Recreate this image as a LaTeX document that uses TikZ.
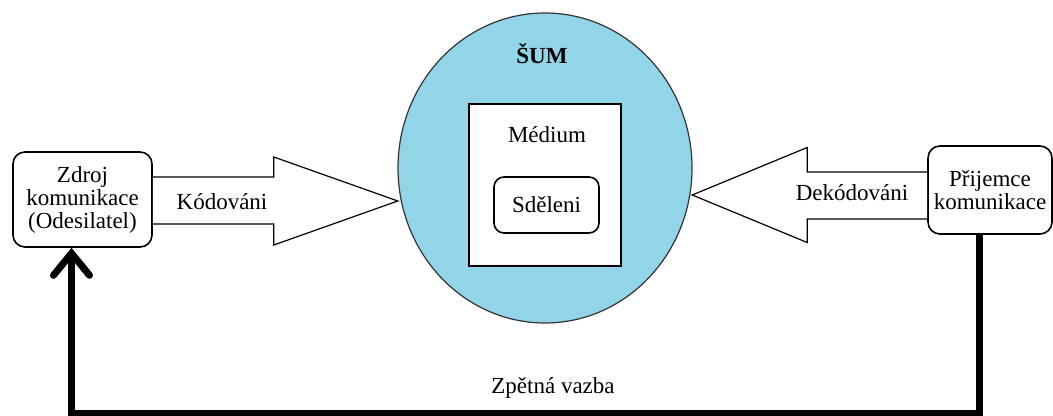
\documentclass[tikz,border=0pt]{standalone}
\usepackage{fontspec}
\setmainfont{Liberation Serif}
\usetikzlibrary{shapes.geometric}
\usetikzlibrary{arrows.meta}
\definecolor{sumblue}{RGB}{147,213,232}

\begin{document}
\begin{tikzpicture}[x=0.5pt, y=-0.5pt, font=\fontsize{11.5}{11.5}\selectfont,
  roundbox/.style={draw, fill=white, rounded corners=6pt, line width=0.8pt, align=center, inner sep=0pt},
  blockarrow/.style={draw, fill=white, line width=0.6pt},
  feedback/.style={line width=3.5pt, -{Straight Barb[length=11pt, width=18pt, line cap=round]}}]
\useasboundingbox (0,0) rectangle (1053,416);

% noise, medium and message
\node[ellipse, draw=black!80, fill=sumblue, line width=0.6pt, minimum width=147pt, minimum height=155pt, inner sep=0pt] (sum) at (545,168) {};
\node[font=\fontsize{11.5}{11.5}\selectfont\bfseries] (sumlabel) at (542,54) {ŠUM};
\node[draw, fill=white, line width=0.8pt, minimum width=76pt, minimum height=81pt] (medium) at (545,185) {};
\node (mediumlabel) at (547,135) {Médium};
\node[roundbox, rounded corners=5pt, minimum width=52.5pt, minimum height=28pt] (sdeleni) at (546.5,205) {Sděleni};

% sender and receiver
\node[roundbox, minimum width=69.5pt, minimum height=47.5pt] (zdroj) at (82.5,199.5) {Zdroj\\komunikace\\(Odesilatel)};
\node[roundbox, minimum width=62pt, minimum height=44pt] (prijemce) at (990,190) {Přijemce\\komunikace};

% coding / decoding
\draw[blockarrow] (zdroj.east) +(0,-22.5) -- +(121,-22.5) -- +(121,-42.5) -- +(245,1.5) -- +(121,45.5) -- +(121,24.5) -- +(0,24.5);
\node (kodovani) at (222,202) {Kódováni};
\draw[blockarrow] (prijemce.west) +(0,-18) -- +(-120,-18) -- +(-120,-42.5) -- +(-235,5) -- +(-120,52.5) -- +(-120,29) -- +(0,29);
\node (dekodovani) at (852,193) {Dekódováni};

% feedback loop
\draw[feedback] ([xshift=-5.5pt]prijemce.south) -- ++(0,179) -| ([xshift=-5.5pt]zdroj.south);
\node (vazba) at (553,388) {Zpětná vazba};
\end{tikzpicture}
\end{document}
